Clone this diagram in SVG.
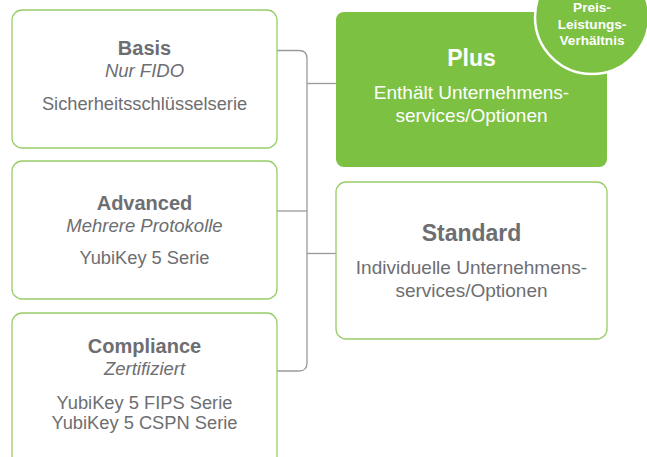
<svg xmlns="http://www.w3.org/2000/svg" width="647" height="457" viewBox="0 0 647 457">
<style>
.box{fill:#fff;stroke:#98cd68;stroke-width:1.3}
.t{font-family:"Liberation Sans",Arial,sans-serif;fill:#6d6e71;text-anchor:middle}
.h{font-weight:bold;font-size:20px}
.i{font-style:italic;font-size:18.5px}
.n{font-size:18.3px}
.r{font-size:19px}
.big{font-weight:bold;font-size:23px}
.w{fill:#fff}
.b{font-size:13.6px;font-weight:bold}
.conn{fill:none;stroke:#999a9c;stroke-width:1.3}
</style>
<rect width="647" height="457" fill="#fff"/>
<g id="connectors" class="conn">
<path d="M277,50.5 H299 Q307,50.5 307,58.5 V363 Q307,371 299,371 H277"/>
<path d="M277,211 H307"/>
<path d="M307,83.5 H336"/>
<path d="M307,253.5 H336"/>
</g>
<g id="basis">
<rect class="box" x="12" y="10" width="265" height="138" rx="10"/>
<text class="t h" x="144.5" y="55">Basis</text>
<text class="t i" x="144.5" y="77">Nur FIDO</text>
<text class="t n" x="144.5" y="110">Sicherheitsschlüsselserie</text>
</g>
<g id="advanced">
<rect class="box" x="12" y="161" width="265" height="138" rx="10"/>
<text class="t h" x="144.5" y="210">Advanced</text>
<text class="t i" x="144.5" y="232">Mehrere Protokolle</text>
<text class="t n" x="144.5" y="264">YubiKey 5 Serie</text>
</g>
<g id="compliance">
<rect class="box" x="12" y="313" width="265" height="160" rx="10"/>
<text class="t h" x="144.5" y="353">Compliance</text>
<text class="t i" x="144.5" y="375">Zertifiziert</text>
<text class="t n" x="144.5" y="409">YubiKey 5 FIPS Serie</text>
<text class="t n" x="144.5" y="429">YubiKey 5 CSPN Serie</text>
</g>
<g id="plus">
<rect x="336" y="12" width="271" height="155" rx="8" fill="#7cc142"/>
<text class="t w big" x="471.5" y="66">Plus</text>
<text class="t w r" x="471.5" y="99">Enthält Unternehmens-</text>
<text class="t w r" x="471.5" y="122">services/Optionen</text>
</g>
<g id="badge">
<circle cx="592" cy="17" r="57" fill="#7cc142" stroke="#fff" stroke-width="2.5"/>
<text class="t w b" x="592" y="12">Preis-</text>
<text class="t w b" x="592" y="28.5">Leistungs-</text>
<text class="t w b" x="592" y="45">Verhältnis</text>
</g>
<g id="standard">
<rect class="box" x="336" y="182" width="271" height="157" rx="10"/>
<text class="t big" x="471.5" y="241">Standard</text>
<text class="t r" x="471.5" y="274">Individuelle Unternehmens-</text>
<text class="t r" x="471.5" y="297">services/Optionen</text>
</g>
</svg>
